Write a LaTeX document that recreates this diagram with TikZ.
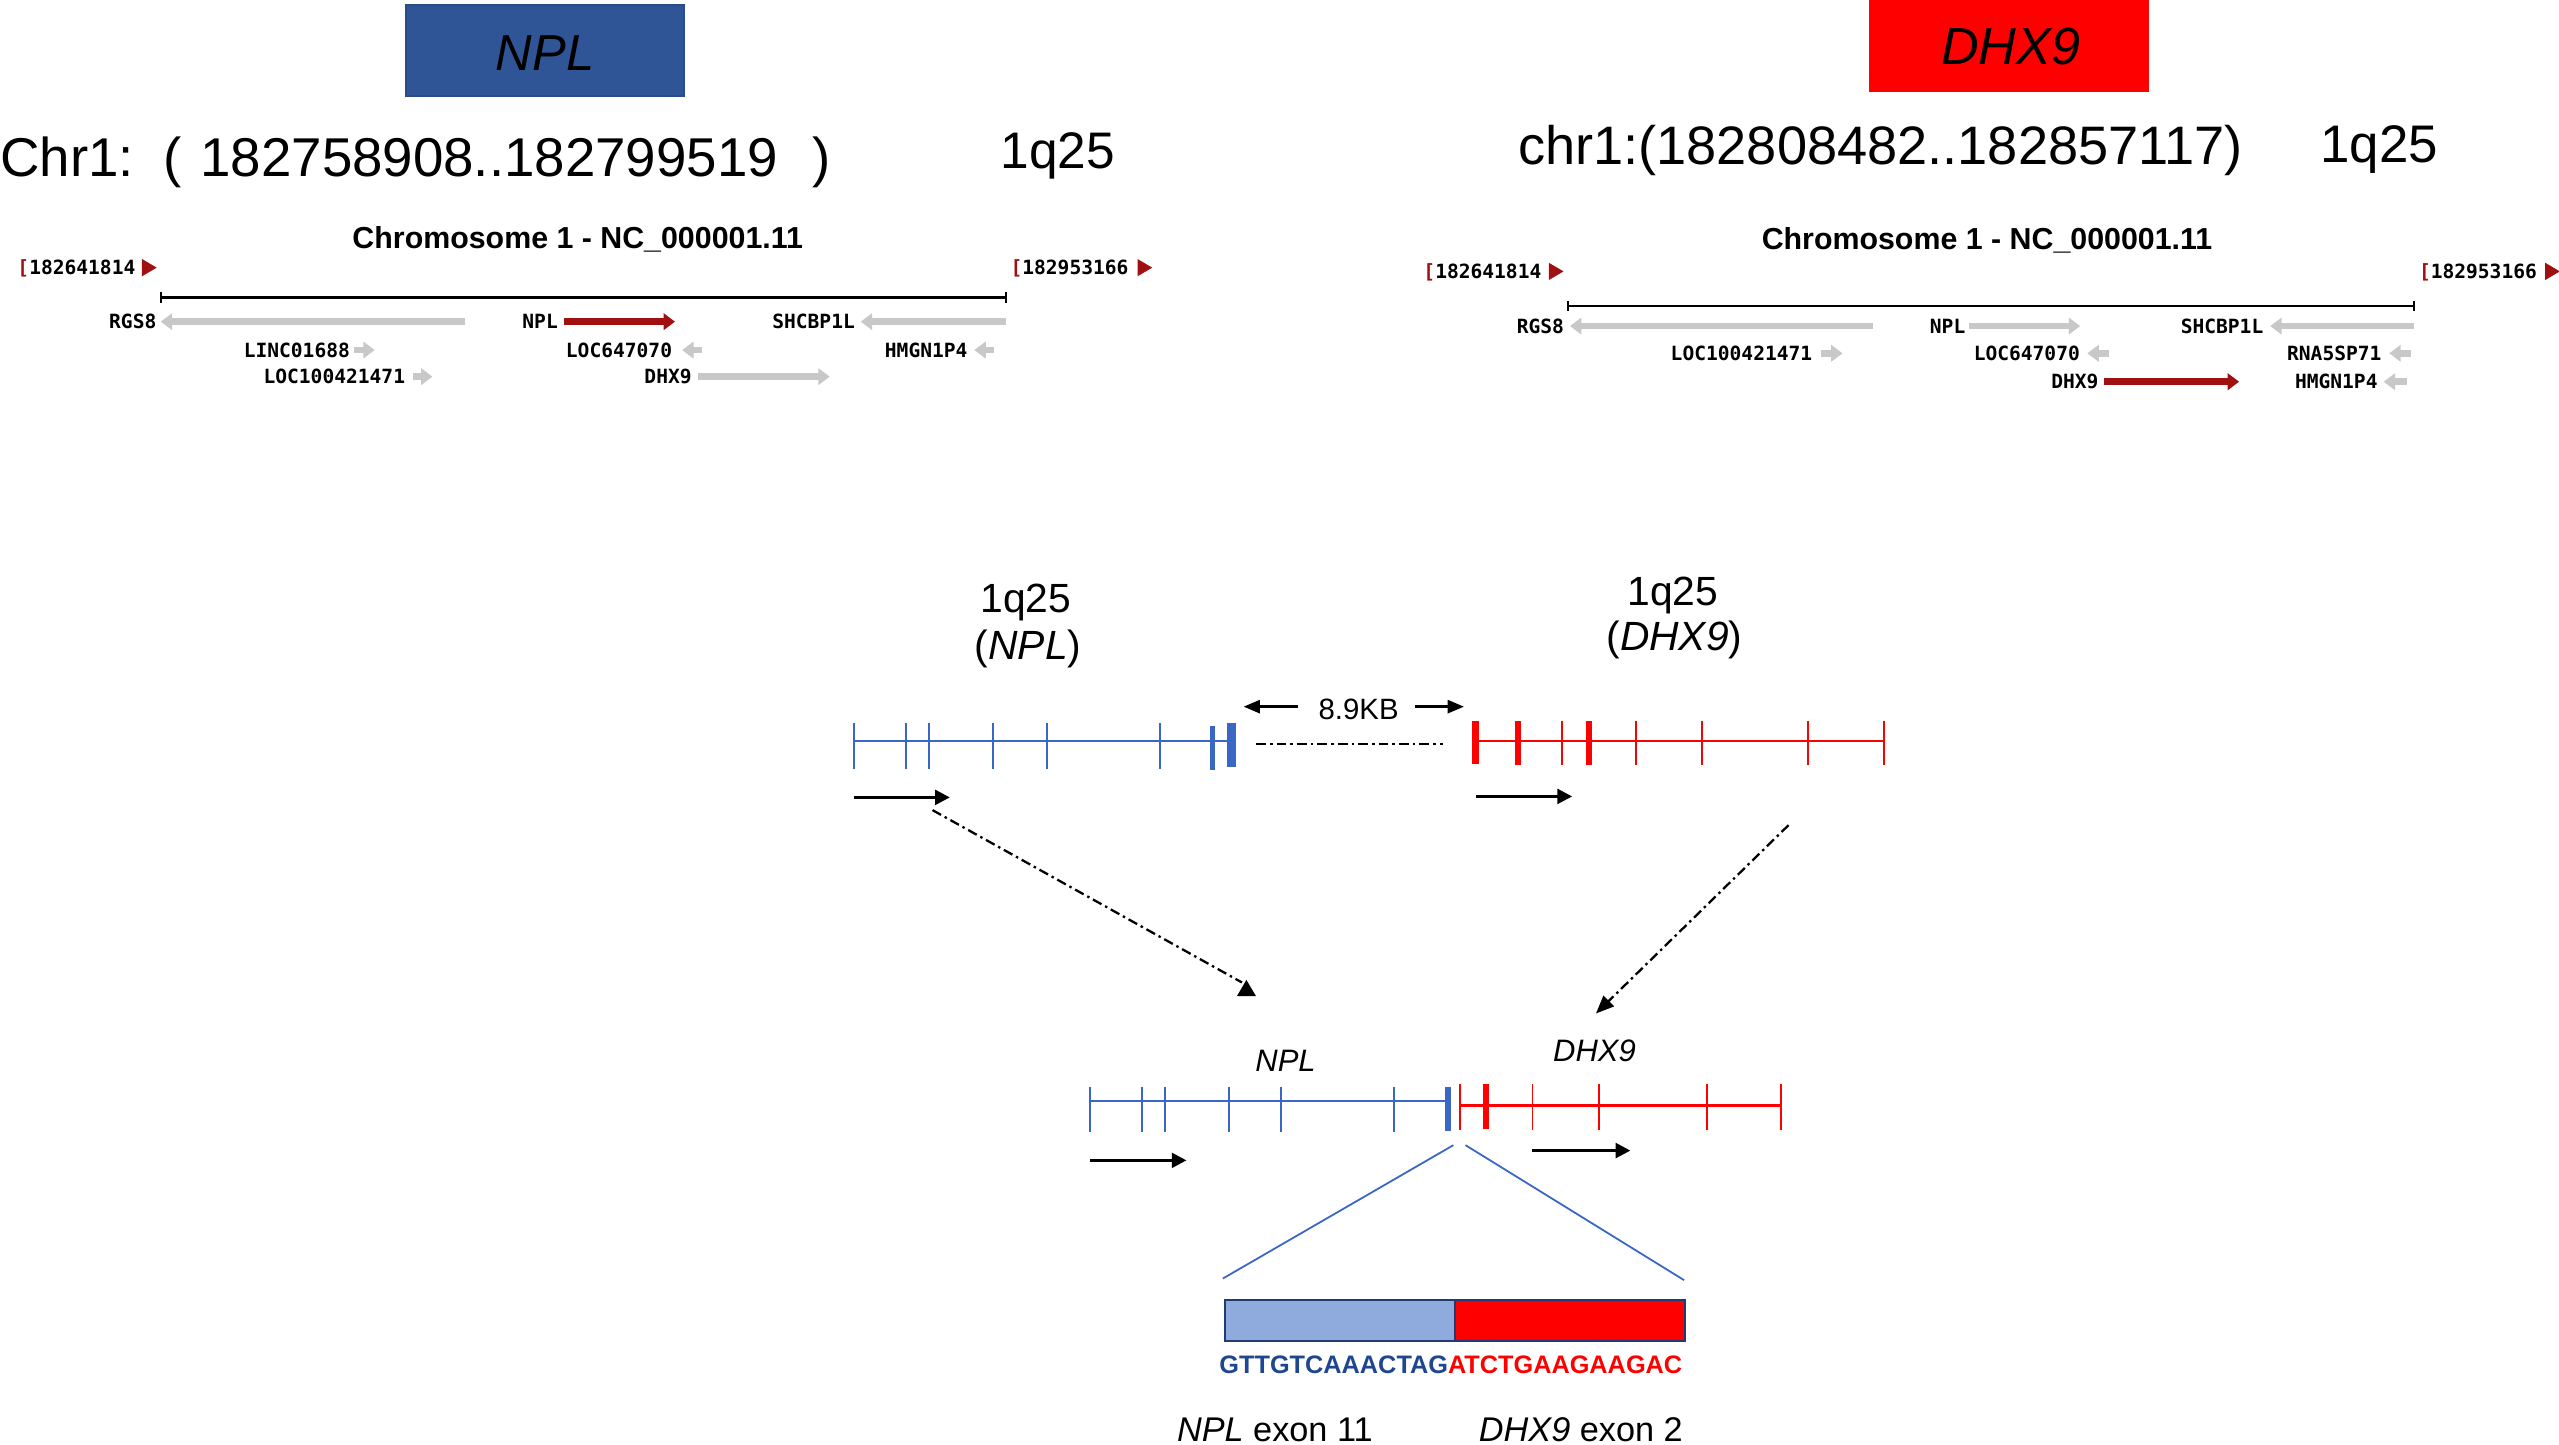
\documentclass[tikz,border=0pt]{standalone}
\usepackage{fontspec}
\setmainfont{Liberation Sans}
\newfontfamily\pixfont{DejaVu Sans Mono}
\usetikzlibrary{arrows.meta}
\definecolor{hdrblue}{HTML}{2F5597}
\definecolor{hdredge}{HTML}{2A4C88}
\definecolor{genblue}{HTML}{3A67C6}
\definecolor{seqblue}{HTML}{1F4690}
\definecolor{boxblue}{HTML}{8FAADC}
\definecolor{boxedge}{HTML}{1F3B73}
\definecolor{ncbired}{HTML}{A01010}
\definecolor{ncbigray}{HTML}{C8C8C8}
\newcommand\myfs[1]{\fontsize{#1}{#1}\selectfont}
\newcommand\glab[4]{\node[pixlab] (#1) at (#2,#3) {#4};}
\newcommand\garr[5]{\coordinate (#1s) at (#3,#2); \coordinate (#1e) at (#4,#2); \draw[garrow,#5] (#1s) -- (#1e);}
\newcommand\poslab[5]{\node[pixlab,anchor=west] (#1) at (#2,#3) {\textcolor{ncbired}{[}#4};
  \fill[ncbired] (#5,#3-5.3) -- (#5+9,#3) -- (#5,#3+5.3) -- cycle;}
\begin{document}
\begin{tikzpicture}[x=1pt,y=-1pt,
  txt/.style={anchor=base west,inner sep=0pt},
  pixlab/.style={anchor=east,inner sep=0pt,font={\pixfont\bfseries\myfs{12}},text height=8.8pt,text depth=0pt},
  garrow/.style={line width=4pt,-{Triangle[length=7pt,width=10pt]}},
  axisline/.style={line width=1.8pt,black},
  thintick/.style={line width=1.2pt},
  thicktick/.style={line width=3.6pt},
  bluegene/.style={genblue,line width=1.3pt},
  redgene/.style={red,line width=1.3pt},
  dirarrow/.style={line width=1.8pt,-{Triangle[length=9pt,width=9pt]}},
  kbarrow/.style={line width=1.6pt,-{Triangle[length=10pt,width=8pt]}},
  dashdot/.style={line width=1.4pt,dash pattern=on 6pt off 2.5pt on 1.5pt off 2.5pt},
  zoomline/.style={genblue,line width=1.1pt}]
\useasboundingbox (0,0) rectangle (1568,884.8);

% ---------- header boxes ----------
\fill[hdrblue,draw=hdredge,line width=1pt] (248.6,2.9) rectangle (419.2,58.8);
\node[anchor=base,inner sep=0pt,font=\myfs{31}\itshape] (hA) at (334,42.9) {NPL};
\fill[red] (1145,0) rectangle (1316.7,56.2);
\node[anchor=base,inner sep=0pt,font=\myfs{32}\itshape] (hB) at (1232,39.8) {DHX9};

% ---------- coordinates lines ----------
\node[txt,font=\myfs{33.5}] (chrA) at (0,108.3) {Chr1:};
\node[txt,font=\myfs{33.5}] (parA) at (100,108.3) {(};
\node[txt,font=\myfs{33.5}] (numA) at (122.6,108.3) {182758908..182799519};
\node[txt,font=\myfs{33.5}] (parB) at (497.8,108.3) {)};
\node[txt,font=\myfs{31.5}] (bandA) at (613,103) {1q25};
\node[txt,font=\myfs{33.2}] (chrB) at (930,101) {chr1:(182808482..182857117)};
\node[txt,font=\myfs{32.4}] (bandB) at (1421.7,99.5) {1q25};

% ---------- NCBI panel left ----------
\node[anchor=base,inner sep=0pt,font=\bfseries\myfs{18.6}] (tA) at (354,152.2) {Chromosome 1 - NC\_000001.11};
\poslab{pA1}{10.5}{164}{182641814}{87}
\poslab{pA2}{619}{164}{182953166}{697}
\coordinate (axA1) at (98.5,182.4); \coordinate (axA2) at (616.6,182.4);
\draw[axisline] (axA1) -- (axA2);
\draw[line width=1.2pt] (98.5,179.2) -- (98.5,185.6) (616.6,179.2) -- (616.6,185.6);
\glab{lA1}{96}{197.1}{RGS8}        \garr{gA1}{197.1}{285}{98.5}{ncbigray}
\glab{lA2}{342}{197.1}{NPL}        \garr{gA2}{197.1}{345.6}{413.6}{ncbired}
\glab{lA3}{524}{197.1}{SHCBP1L}    \garr{gA3}{197.1}{616.6}{527.4}{ncbigray}
\glab{lA4}{214.6}{214.5}{LINC01688}\garr{gA4}{214.5}{217}{229.6}{ncbigray}
\glab{lA5}{412}{214.5}{LOC647070}  \garr{gA5}{214.5}{430}{418}{ncbigray}
\glab{lA6}{593}{214.5}{HMGN1P4}    \garr{gA6}{214.5}{609}{597}{ncbigray}
\glab{lA7}{248.4}{230.8}{LOC100421471}\garr{gA7}{230.8}{253}{265}{ncbigray}
\glab{lA8}{424}{230.8}{DHX9}       \garr{gA8}{230.8}{427.4}{508.4}{ncbigray}

% ---------- NCBI panel right ----------
\node[anchor=base,inner sep=0pt,font=\bfseries\myfs{18.6}] (tB) at (1217.5,153) {Chromosome 1 - NC\_000001.11};
\poslab{pB1}{872}{166.3}{182641814}{949}
\poslab{pB2}{1482}{166.3}{182953166}{1559.5}
\coordinate (axB1) at (961,187.5); \coordinate (axB2) at (1479.3,187.5);
\draw[axisline] (axB1) -- (axB2);
\draw[line width=1.2pt] (961,184.3) -- (961,190.7) (1479.3,184.3) -- (1479.3,190.7);
\glab{lB1}{958.5}{199.8}{RGS8}     \garr{gB1}{199.8}{1147.8}{962}{ncbigray}
\glab{lB2}{1204.4}{199.8}{NPL}     \garr{gB2}{199.8}{1206.6}{1274.6}{ncbigray}
\glab{lB3}{1387}{199.8}{SHCBP1L}   \garr{gB3}{199.8}{1479.3}{1391}{ncbigray}
\glab{lB4}{1110.6}{216.5}{LOC100421471}\garr{gB4}{216.5}{1116}{1129}{ncbigray}
\glab{lB5}{1274.6}{216.5}{LOC647070}\garr{gB5}{216.5}{1292}{1279}{ncbigray}
\glab{lB6}{1459.4}{216.5}{RNA5SP71}\garr{gB6}{216.5}{1477}{1464}{ncbigray}
\glab{lB7}{1286}{233.9}{DHX9}      \garr{gB7}{233.9}{1289}{1372}{ncbired}
\glab{lB8}{1457}{233.9}{HMGN1P4}   \garr{gB8}{233.9}{1474.6}{1460.5}{ncbigray}

% ---------- middle labels ----------
\node[anchor=base,inner sep=0pt,font=\myfs{25}] (mA1) at (628.5,375.5) {1q25};
\node[anchor=base,inner sep=0pt,font=\myfs{25}] (mA2) at (630,404) {(\textit{NPL})};
\node[anchor=base,inner sep=0pt,font=\myfs{25}] (mB1) at (1025,371.2) {1q25};
\node[anchor=base,inner sep=0pt,font=\myfs{25}] (mB2) at (1026,398.5) {(\textit{DHX9})};

% ---------- genomic genes ----------
\coordinate (nplS) at (523,454); \coordinate (nplE) at (756,454);
\draw[bluegene] (nplS) -- (nplE);
\foreach \x in {523.2,555,569.1,608.2,641.4,711}{\draw[genblue,thintick] (\x,443) -- (\x,471);}
\draw[genblue,line width=3.3pt] (743,445) -- (743,472);
\draw[genblue,line width=5.7pt] (754.6,443) -- (754.6,470);
\coordinate (dhxS) at (902.3,454); \coordinate (dhxE) at (1155,454);
\draw[redgene] (dhxS) -- (dhxE);
\draw[red,line width=4.5pt] (904,441.6) -- (904,468.2);
\draw[red,line width=3.3pt] (930.2,442) -- (930.2,469);
\draw[red,line width=3.3pt] (973.6,442) -- (973.6,469);
\foreach \x in {957.3,1002.5,1042.9,1107.8,1154.2}{\draw[red,thintick] (\x,441.6) -- (\x,468.8);}

\coordinate (gapS) at (769.7,456); \coordinate (gapE) at (884.4,456);
\draw[dashdot] (gapS) -- (gapE);
\node[inner sep=0pt,font=\myfs{18}] (kb) at (832.5,434.5) {8.9KB};
\coordinate (kbL1) at (795.5,433); \coordinate (kbL2) at (762,433);
\coordinate (kbR1) at (867,433); \coordinate (kbR2) at (897,433);
\draw[kbarrow] (kbL1) -- (kbL2);
\draw[kbarrow] (kbR1) -- (kbR2);

\coordinate (dA1) at (523,488.6); \coordinate (dA2) at (582,488.6);
\draw[dirarrow] (dA1) -- (dA2);
\coordinate (dB1) at (904.5,488); \coordinate (dB2) at (963.3,488);
\draw[dirarrow] (dB1) -- (dB2);

% ---------- diagonal connectors ----------
\coordinate (diagA1) at (571.4,496.4); \coordinate (diagA2) at (761,602);
\draw[dashdot] (diagA1) -- (diagA2);
\fill (763.7,600.4) -- (769.6,610.4) -- (757.9,610.4) -- cycle;
\coordinate (diagB1) at (1095.9,505.6); \coordinate (diagB2) at (977.9,621);
\draw[dashdot,-{Triangle[length=11pt,width=9pt]}] (diagB1) -- (diagB2);

% ---------- fusion gene ----------
\node[anchor=base,inner sep=0pt,font=\myfs{19}\itshape] (fA) at (787.7,656.7) {NPL};
\node[anchor=base,inner sep=0pt,font=\myfs{19}\itshape] (fB) at (977,650.6) {DHX9};
\coordinate (fnS) at (668,674.5); \coordinate (fnE) at (887,674.5);
\draw[bluegene] (fnS) -- (fnE);
\foreach \x in {668,700,714,753,785,854}{\draw[genblue,thintick] (\x,666) -- (\x,693.5);}
\draw[genblue,line width=3.7pt] (887,666) -- (887,693);
\coordinate (frS) at (894,677.4); \coordinate (frE) at (1091,677.4);
\draw[redgene] (frS) -- (frE);
\foreach \x in {894.3,939,979.6,1046,1091}{\draw[red,thintick] (\x,664.5) -- (\x,692.5);}
\draw[red,line width=4pt] (910.4,664.5) -- (910.4,692);

\coordinate (fdA1) at (668,711); \coordinate (fdA2) at (727,711);
\draw[dirarrow] (fdA1) -- (fdA2);
\coordinate (fdB1) at (939,705); \coordinate (fdB2) at (999,705);
\draw[dirarrow] (fdB1) -- (fdB2);

% ---------- junction zoom ----------
\coordinate (zA1) at (890.5,701.7); \coordinate (zA2) at (749.3,783.4);
\coordinate (zB1) at (898,701.7); \coordinate (zB2) at (1031.9,784.4);
\draw[zoomline] (zA1) -- (zA2);
\draw[zoomline] (zB1) -- (zB2);
\node[draw=boxedge,fill=boxblue,line width=1.3pt,inner sep=0pt,minimum width=141.3pt,minimum height=25.2pt,anchor=north west] (boxA) at (749.8,796) {};
\node[draw=boxedge,fill=red,line width=1.3pt,inner sep=0pt,minimum width=140.8pt,minimum height=25.2pt,anchor=north west] (boxB) at (891.1,796) {};
\node[txt,font=\bfseries\myfs{15.5}] (seq) at (747,841.4) {\textcolor{seqblue}{GTTGTCAAACTAG}\textcolor{red}{ATCTGAAGAAGAC}};
\node[txt,font=\myfs{21}] (exA) at (721,883) {\textit{NPL} exon 11};
\node[txt,font=\myfs{21}] (exB) at (906,883) {\textit{DHX9} exon 2};
\end{tikzpicture}
\end{document}
